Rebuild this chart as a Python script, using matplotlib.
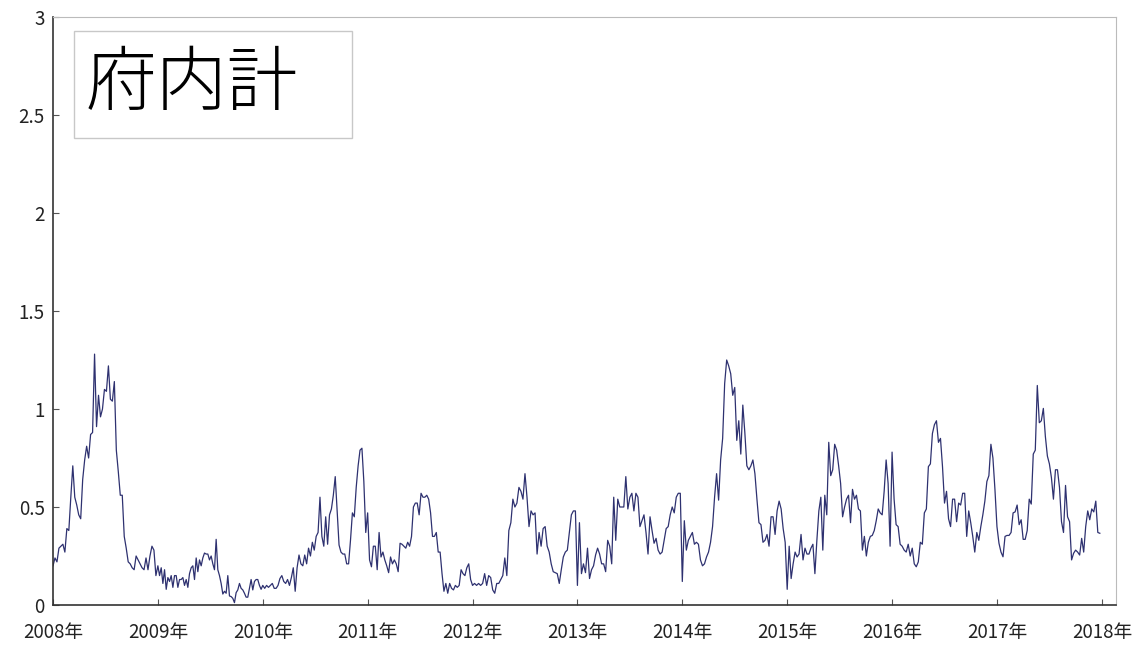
import matplotlib
matplotlib.use("Agg")
import matplotlib.pyplot as plt
from matplotlib.patches import Rectangle

plt.rcParams['font.family'] = ['Noto Sans CJK JP', 'DejaVu Sans']

# weekly values, one list per year
v2008 = [0.20, 0.24, 0.22, 0.29, 0.30, 0.31, 0.27, 0.39, 0.38, 0.55, 0.71, 0.55, 0.51, 0.46,
         0.44, 0.64, 0.74, 0.81, 0.75, 0.87, 0.88, 1.28, 0.91, 1.07, 0.96, 1.00, 1.10, 1.09,
         1.22, 1.05, 1.04, 1.14, 0.79, 0.68, 0.56, 0.56, 0.35, 0.29, 0.22, 0.21, 0.19, 0.18,
         0.25, 0.23, 0.21, 0.19, 0.18, 0.24, 0.18, 0.25, 0.30, 0.28, 0.15]
v2009 = [0.20, 0.15, 0.19, 0.11, 0.18, 0.08, 0.14, 0.12, 0.15, 0.09, 0.15, 0.15, 0.09, 0.13,
         0.13, 0.14, 0.10, 0.13, 0.09, 0.16, 0.19, 0.20, 0.13, 0.24, 0.17, 0.23, 0.20, 0.24,
         0.265, 0.26, 0.26, 0.23, 0.25, 0.21, 0.18, 0.335, 0.18, 0.15, 0.11, 0.056, 0.07, 0.06,
         0.15, 0.046, 0.043, 0.034, 0.012, 0.063, 0.077, 0.11, 0.085, 0.077, 0.06, 0.04, 0.04,
         0.085, 0.13, 0.077, 0.12, 0.13, 0.13, 0.10, 0.08]
v2010 = [0.10, 0.085, 0.10, 0.09, 0.10, 0.11, 0.085, 0.085, 0.10, 0.135, 0.15, 0.12, 0.11,
         0.13, 0.10, 0.14, 0.19, 0.07, 0.19, 0.255, 0.21, 0.20, 0.255, 0.21, 0.29, 0.25, 0.32,
         0.28, 0.35, 0.37, 0.55, 0.35, 0.30, 0.45, 0.31, 0.46, 0.49, 0.56, 0.655, 0.48, 0.306,
         0.27, 0.26, 0.26, 0.21, 0.21, 0.33, 0.47, 0.45, 0.60, 0.71, 0.79, 0.80, 0.63, 0.37]
v2011 = [0.47, 0.23, 0.195, 0.30, 0.30, 0.18, 0.37, 0.245, 0.27, 0.23, 0.20, 0.165, 0.245,
         0.21, 0.23, 0.21, 0.17, 0.315, 0.31, 0.30, 0.29, 0.32, 0.30, 0.35, 0.50, 0.52, 0.52,
         0.46, 0.57, 0.55, 0.55, 0.56, 0.54, 0.47, 0.35, 0.35, 0.37, 0.27, 0.27, 0.16, 0.07,
         0.11, 0.06, 0.11, 0.085, 0.077, 0.10, 0.09, 0.10, 0.18, 0.16, 0.15, 0.19, 0.21, 0.13]
v2012 = [0.10, 0.11, 0.10, 0.11, 0.10, 0.11, 0.16, 0.10, 0.15, 0.14, 0.077, 0.06, 0.11, 0.11,
         0.13, 0.15, 0.24, 0.15, 0.38, 0.42, 0.54, 0.50, 0.52, 0.60, 0.58, 0.54, 0.67, 0.55,
         0.40, 0.48, 0.46, 0.47, 0.26, 0.37, 0.30, 0.39, 0.40, 0.30, 0.27, 0.21, 0.17, 0.165,
         0.16, 0.11, 0.18, 0.245, 0.27, 0.28, 0.37, 0.46, 0.48, 0.48]
v2013 = [0.10, 0.42, 0.16, 0.21, 0.165, 0.29, 0.135, 0.18, 0.20, 0.255, 0.29, 0.26, 0.21, 0.21,
         0.17, 0.33, 0.30, 0.21, 0.55, 0.33, 0.54, 0.50, 0.50, 0.50, 0.655, 0.49, 0.55, 0.57,
         0.48, 0.57, 0.55, 0.40, 0.43, 0.46, 0.37, 0.26, 0.45, 0.38, 0.315, 0.34, 0.28, 0.26,
         0.27, 0.33, 0.39, 0.40, 0.46, 0.50, 0.47, 0.55, 0.57, 0.57]
v2014 = [0.12, 0.43, 0.28, 0.33, 0.35, 0.37, 0.31, 0.32, 0.31, 0.23, 0.20, 0.21, 0.245, 0.27,
         0.32, 0.40, 0.55, 0.67, 0.535, 0.74, 0.85, 1.13, 1.25, 1.22, 1.18, 1.07, 1.11, 0.84,
         0.94, 0.77, 1.02, 0.88, 0.71, 0.69, 0.71, 0.74, 0.67, 0.54, 0.42, 0.41, 0.32, 0.33,
         0.36, 0.30, 0.45, 0.45, 0.36, 0.48, 0.53, 0.49, 0.39, 0.32]
v2015 = [0.08, 0.30, 0.135, 0.21, 0.27, 0.245, 0.26, 0.36, 0.23, 0.29, 0.26, 0.26, 0.29, 0.31,
         0.16, 0.33, 0.48, 0.55, 0.28, 0.56, 0.46, 0.83, 0.66, 0.69, 0.82, 0.79, 0.71, 0.62,
         0.45, 0.50, 0.54, 0.56, 0.42, 0.59, 0.54, 0.56, 0.49, 0.48, 0.28, 0.35, 0.25, 0.32,
         0.35, 0.355, 0.38, 0.43, 0.49, 0.47, 0.46, 0.58, 0.74, 0.62, 0.30]
v2016 = [0.78, 0.54, 0.41, 0.40, 0.31, 0.30, 0.28, 0.27, 0.31, 0.25, 0.29, 0.21, 0.195, 0.22,
         0.32, 0.31, 0.47, 0.49, 0.706, 0.72, 0.875, 0.92, 0.94, 0.83, 0.85, 0.706, 0.52, 0.58,
         0.44, 0.40, 0.54, 0.54, 0.425, 0.52, 0.51, 0.57, 0.57, 0.35, 0.48, 0.42, 0.35, 0.27,
         0.37, 0.33, 0.40, 0.46, 0.53, 0.63, 0.66, 0.82, 0.75, 0.59]
v2017 = [0.40, 0.315, 0.27, 0.246, 0.35, 0.355, 0.355, 0.37, 0.47, 0.475, 0.51, 0.41, 0.435,
         0.335, 0.335, 0.38, 0.54, 0.515, 0.77, 0.79, 1.12, 0.93, 0.94, 1.003, 0.86, 0.76, 0.72,
         0.65, 0.54, 0.69, 0.69, 0.60, 0.425, 0.37, 0.61, 0.45, 0.425, 0.23, 0.264, 0.28, 0.27,
         0.255, 0.34, 0.27, 0.40, 0.48, 0.435, 0.49, 0.475, 0.53, 0.37, 0.366]

years = list(range(2008, 2018))
per_year = [v2008, v2009, v2010, v2011, v2012, v2013, v2014, v2015, v2016, v2017]
xticks = list(range(2008, 2019))
xlabels = [f"{y}年" for y in xticks]
yticks = [0, 0.5, 1, 1.5, 2, 2.5, 3]
ylabels = ["0", "0.5", "1", "1.5", "2", "2.5", "3"]
title = "府内計"

xs, ys = [], []
for y, vals in zip(years, per_year):
    n = len(vals)
    for i, v in enumerate(vals):
        xs.append(y + i / n)
        ys.append(v)

fig = plt.figure(figsize=(11.42, 6.48), dpi=100)
ax = fig.add_axes([53 / 1142, 43 / 648, 1063 / 1142, 588 / 648])

ax.plot(xs, ys, color="#2e3170", lw=0.9)

ax.set_xlim(2008, 2018.135)
ax.set_ylim(0, 3)
ax.set_xticks(xticks)
ax.set_xticklabels(xlabels)
ax.set_yticks(yticks)
ax.set_yticklabels(ylabels)
ax.tick_params(direction="in", length=4, width=0.8, color="#555555",
               labelsize=13.5, labelcolor="#222222")
ax.tick_params(axis="x", pad=12)
ax.tick_params(axis="y", pad=6)

for s in ["left", "bottom"]:
    ax.spines[s].set_color("#333333")
    ax.spines[s].set_linewidth(1.2)
for s in ["top", "right"]:
    ax.spines[s].set_color("#bbbbbb")
    ax.spines[s].set_linewidth(0.8)

ax.add_patch(Rectangle((0.0198, 0.794), 0.2615, 0.182, transform=ax.transAxes,
                       facecolor="white", edgecolor="#c8c8c8", lw=1.0, zorder=3))
ax.text(0.031, 0.884, title, transform=ax.transAxes, fontsize=51, color="black",
        fontweight="light", va="center", ha="left", zorder=4)

fig.savefig("out.png", dpi=100)
